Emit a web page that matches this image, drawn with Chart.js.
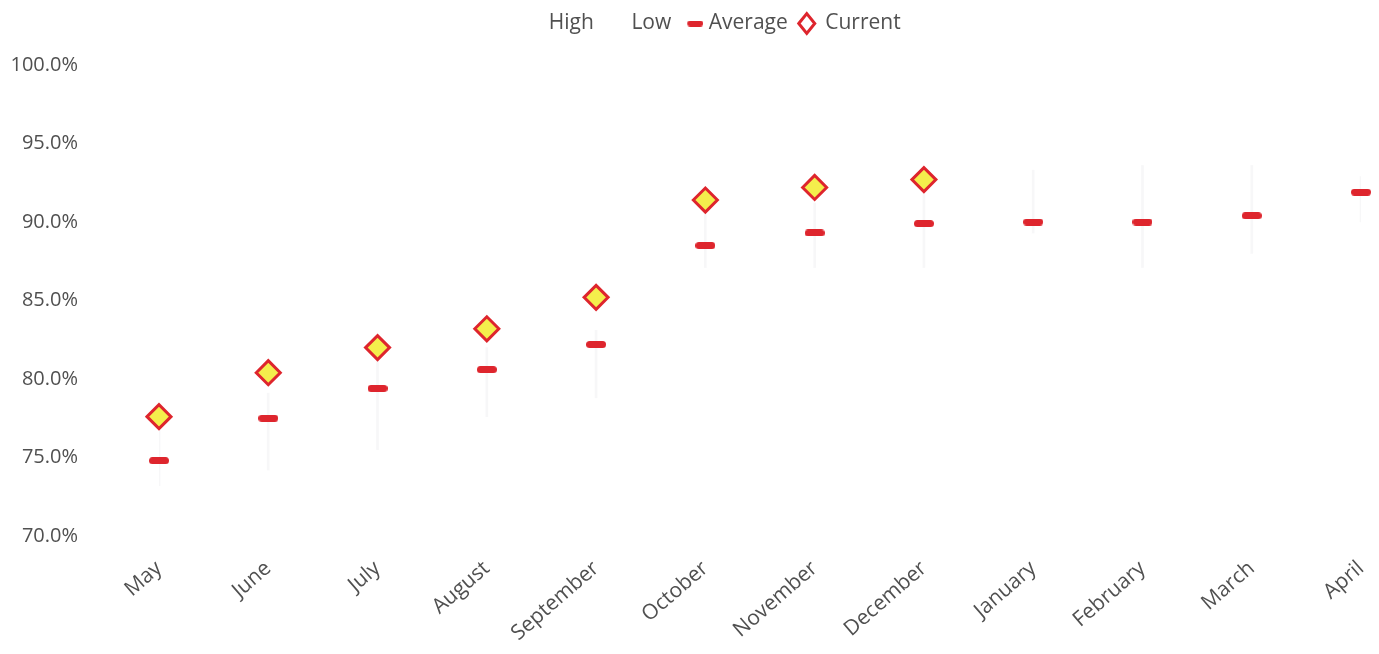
<!DOCTYPE html>
<html>
<head>
<meta charset="utf-8">
<script src="https://cdn.jsdelivr.net/npm/chart.js@4/dist/chart.umd.min.js"></script>
<style>
  html, body { margin: 0; padding: 0; background: #fff; }
  canvas { display: block; }
</style>
</head>
<body>
<canvas id="chart" width="1379" height="654"></canvas>
<script>
// Months of the year, May through April
const months = ['May', 'June', 'July', 'August', 'September', 'October',
  'November', 'December', 'January', 'February', 'March', 'April'];

// Percentages per month
const highValues = [76.8, 79.1, 81.2, 82.0, 83.1, 90.5, 91.2, 91.8, 93.3, 93.6, 93.6, 92.9];
const lowValues = [73.2, 74.2, 75.5, 77.6, 78.8, 87.1, 87.1, 87.1, 89.3, 87.1, 88.0, 90.0];
const averageValues = [74.8, 77.5, 79.4, 80.6, 82.2, 88.5, 89.3, 89.9, 90.0, 90.0, 90.4, 91.9];
const currentValues = [77.6, 80.4, 82.0, 83.2, 85.2, 91.4, 92.2, 92.7, null, null, null, null];

// Y axis: 70% to 100% in 5% steps
const yMin = 70;
const yMax = 100;
const yStep = 5;

const RED = '#de252d';
const YELLOW = '#f4ee4c';
const TEXT = '#505050';
const FONT = '"Open Sans", "Noto Sans", sans-serif';

// Short horizontal red bar used as the "Average" marker (optionally with a blank lead-in)
function dashMarker(w, h, lead) {
  const c = document.createElement('canvas');
  c.width = w + lead; c.height = h;
  const g = c.getContext('2d');
  const r = h / 2;
  g.translate(lead, 0);
  g.fillStyle = RED;
  g.beginPath();
  g.moveTo(r, 0);
  g.lineTo(w - r, 0);
  g.arc(w - r, r, r, -Math.PI / 2, Math.PI / 2);
  g.lineTo(r, h);
  g.arc(r, r, r, Math.PI / 2, Math.PI * 1.5);
  g.closePath();
  g.fill();
  return c;
}
const avgMarker = dashMarker(20, 7, 0);
const avgLegendMarker = dashMarker(16, 6, 10);

// Legend box: reserve a fixed band above the plot and nudge the row right
const legendBand = {
  id: 'legendBand',
  beforeLayout(chart) {
    const lg = chart.legend;
    if (lg && !lg._banded) {
      const fit = lg.fit;
      lg.fit = function () { fit.call(this); this.height = 65; };
      lg._banded = true;
    }
  },
  afterLayout(chart) {
    chart.legend.left += 31;
    chart.legend.right += 31;
    chart.legend.top += 2;
  }
};

new Chart(document.getElementById('chart'), {
  data: {
    labels: months,
    datasets: [
      {
        type: 'line', label: 'High', data: highValues,
        showLine: false, pointRadius: 0, pointHoverRadius: 0,
        borderColor: 'rgba(0,0,0,0)', backgroundColor: 'rgba(0,0,0,0)'
      },
      {
        type: 'line', label: 'Low', data: lowValues,
        showLine: false, pointRadius: 0, pointHoverRadius: 0,
        borderColor: 'rgba(0,0,0,0)', backgroundColor: 'rgba(0,0,0,0)'
      },
      {
        type: 'line', label: 'Average', data: averageValues,
        showLine: false, pointStyle: avgMarker, pointRadius: 10,
        borderColor: RED, backgroundColor: RED
      },
      {
        type: 'line', label: 'Current', data: currentValues,
        showLine: false, pointStyle: 'rectRot', pointRadius: 12,
        pointBorderWidth: 3, borderColor: RED, backgroundColor: YELLOW,
        pointBorderColor: RED, pointBackgroundColor: YELLOW
      },
      {
        // faint high–low range behind each month
        type: 'bar', label: 'Range',
        data: highValues.map((h, i) => [lowValues[i], h]),
        backgroundColor: 'rgba(170,170,180,0.09)',
        barThickness: 2, borderWidth: 0, grouped: false
      }
    ]
  },
  plugins: [legendBand],
  options: {
    responsive: false,
    animation: false,
    devicePixelRatio: 1,
    layout: { padding: { left: 0, right: 18, top: 0, bottom: 0 } },
    plugins: {
      tooltip: { enabled: false },
      legend: {
        position: 'top',
        align: 'center',
        labels: {
          usePointStyle: true,
          pointStyleWidth: 16,
          boxHeight: 14,
          padding: 11,
          color: TEXT,
          font: { family: FONT, size: 21 },
          filter: (item) => item.datasetIndex !== 4,
          generateLabels: (chart) => {
            const items = Chart.defaults.plugins.legend.labels.generateLabels(chart);
            items.forEach((it) => {
              if (it.datasetIndex === 0 || it.datasetIndex === 1) {
                it.fillStyle = 'rgba(0,0,0,0)';
                it.strokeStyle = 'rgba(0,0,0,0)';
                it.pointStyle = 'circle';
              } else if (it.datasetIndex === 2) {
                it.pointStyle = avgLegendMarker;
              } else if (it.datasetIndex === 3) {
                it.pointStyle = 'rectRot';
                it.fillStyle = '#ffffff';
                it.strokeStyle = RED;
                it.lineWidth = 3;
              }
            });
            return items;
          }
        }
      }
    },
    scales: {
      x: {
        type: 'category',
        offset: false,
        grid: { display: false, drawTicks: false },
        border: { display: false },
        ticks: {
          color: TEXT,
          font: { family: FONT, size: 21 },
          minRotation: 41, maxRotation: 41,
          padding: 20,
          autoSkip: false
        },
        afterFit: (scale) => {
          scale.height = 118;
          scale.paddingLeft = 0;
          scale.paddingRight = 0;
        }
      },
      y: {
        min: yMin, max: yMax,
        grid: { display: false, drawTicks: false },
        border: { display: false },
        ticks: {
          stepSize: yStep,
          color: TEXT,
          font: { family: FONT, size: 20 },
          padding: 81,
          callback: (v) => v.toFixed(1) + '%'
        },
        afterFit: (scale) => {
          scale.width = 159;
          scale.paddingTop = 0;
          scale.paddingBottom = 0;
        }
      }
    }
  }
});
</script>
</body>
</html>
